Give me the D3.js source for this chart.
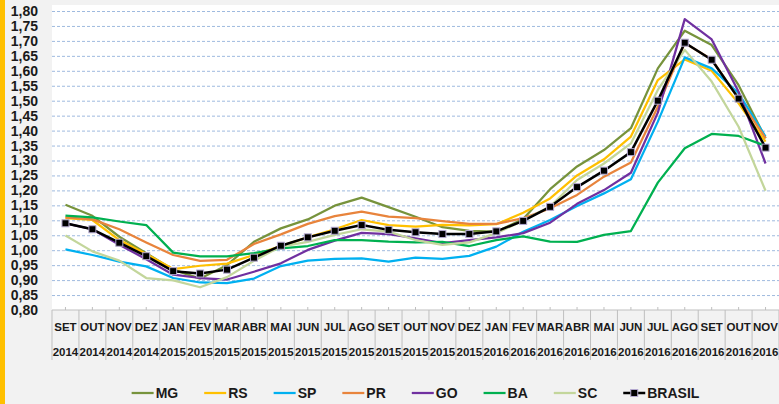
<!DOCTYPE html>
<html lang="pt">
<head>
  <meta charset="UTF-8">
  <title>Índice por estado</title>
  <script src="https://d3js.org/d3.v7.min.js"></script>
  <style>
    body { margin: 0; background: #f2f2f2; }
    svg { display: block; font-family: "Liberation Sans", Arial, sans-serif; }
  </style>
</head>
<body>
  <div id="chart"></div>

  <script>
    // categorias (mês / ano)
    const months = ["SET","OUT","NOV","DEZ","JAN","FEV","MAR","ABR","MAI","JUN","JUL","AGO","SET","OUT","NOV","DEZ","JAN","FEV","MAR","ABR","MAI","JUN","JUL","AGO","SET","OUT","NOV"];
    const years = ["2014","2014","2014","2014","2015","2015","2015","2015","2015","2015","2015","2015","2015","2015","2015","2015","2016","2016","2016","2016","2016","2016","2016","2016","2016","2016","2016"];
    const yTicks = [0.80,0.85,0.90,0.95,1.00,1.05,1.10,1.15,1.20,1.25,1.30,1.35,1.40,1.45,1.50,1.55,1.60,1.65,1.70,1.75,1.80];

    // séries
    const MG = [1.152,1.115,1.045,0.990,0.935,0.905,0.950,1.028,1.073,1.103,1.149,1.176,1.144,1.112,1.077,1.065,1.062,1.104,1.204,1.280,1.335,1.408,1.608,1.734,1.686,1.552,1.374];
    const RS = [1.107,1.101,1.034,0.987,0.937,0.948,0.955,0.984,1.014,1.043,1.070,1.101,1.084,1.079,1.085,1.083,1.087,1.125,1.173,1.250,1.304,1.380,1.569,1.638,1.600,1.491,1.363];
    const SP = [1.003,0.984,0.962,0.946,0.907,0.892,0.890,0.905,0.947,0.965,0.971,0.973,0.962,0.975,0.971,0.981,1.012,1.062,1.101,1.148,1.190,1.237,1.430,1.645,1.608,1.525,1.380];
    const PR = [1.110,1.103,1.070,1.026,0.984,0.964,0.968,1.021,1.053,1.088,1.114,1.129,1.112,1.107,1.097,1.088,1.088,1.107,1.140,1.185,1.246,1.293,1.480,1.693,1.638,1.508,1.375];
    const GO = [1.090,1.070,1.018,0.970,0.918,0.907,0.902,0.928,0.956,1.001,1.032,1.058,1.054,1.040,1.024,1.034,1.043,1.057,1.092,1.155,1.201,1.259,1.460,1.773,1.705,1.530,1.290];
    const BA = [1.116,1.110,1.096,1.084,0.992,0.979,0.979,0.990,1.006,1.014,1.034,1.034,1.029,1.026,1.028,1.014,1.034,1.046,1.029,1.028,1.051,1.064,1.226,1.341,1.389,1.382,1.349];
    const SC = [1.049,0.996,0.965,0.907,0.899,0.876,0.910,0.965,1.012,1.028,1.051,1.070,1.062,1.034,1.018,1.026,1.057,1.099,1.146,1.235,1.290,1.357,1.536,1.670,1.564,1.413,1.199];
    const BRASIL = [1.090,1.070,1.025,0.980,0.930,0.922,0.935,0.975,1.015,1.043,1.065,1.084,1.068,1.060,1.054,1.054,1.063,1.098,1.145,1.211,1.266,1.328,1.500,1.694,1.637,1.507,1.343];

    const series = [
      { name: "MG", values: MG, color: "#77933c" },
      { name: "RS", values: RS, color: "#ffc000" },
      { name: "SP", values: SP, color: "#00b0f0" },
      { name: "PR", values: PR, color: "#e8843c" },
      { name: "GO", values: GO, color: "#7030a0" },
      { name: "BA", values: BA, color: "#00b050" },
      { name: "SC", values: SC, color: "#c3d69b" },
      { name: "BRASIL", values: BRASIL, color: "#000000", marker: true }
    ];

    const width = 779, height = 404;
    const plot = { left: 52, right: 779, top: 5, bottom: 310 };

    const svg = d3.select("#chart").append("svg")
      .attr("width", width)
      .attr("height", height);

    svg.append("rect").attr("width", width).attr("height", height).attr("fill", "#f2f2f2");
    svg.append("rect").attr("x", 0).attr("y", 0).attr("width", 5).attr("height", height).attr("fill", "#ffc000");
    svg.append("rect")
      .attr("x", plot.left).attr("y", plot.top)
      .attr("width", plot.right - plot.left).attr("height", plot.bottom - plot.top)
      .attr("fill", "#ffffff");

    const x = d3.scaleBand()
      .domain(d3.range(months.length))
      .range([plot.left, plot.right]);

    const y = d3.scaleLinear()
      .domain([0.80, 1.80])
      .range([plot.bottom, 11]);

    // grade horizontal
    svg.append("g")
      .attr("transform", `translate(${plot.left},0)`)
      .call(d3.axisLeft(y).tickValues(yTicks.slice(1)).tickSize(-(plot.right - plot.left)).tickFormat(""))
      .call(g => g.select(".domain").remove())
      .call(g => g.selectAll("line")
        .attr("stroke", "#9fbadf")
        .attr("stroke-dasharray", "3,2"));

    // eixo Y
    svg.append("g")
      .attr("transform", "translate(40,0)")
      .call(d3.axisLeft(y).tickValues(yTicks).tickSize(0).tickPadding(2)
        .tickFormat(d => d3.format(".2f")(d).replace(".", ",")))
      .call(g => g.select(".domain").remove())
      .call(g => g.selectAll("text")
        .attr("font-size", 14)
        .attr("font-weight", "bold")
        .attr("fill", "#1a1a1a")
        .attr("font-family", "'Liberation Sans', Arial, sans-serif"));

    // eixo X (linha e marcas)
    svg.append("line")
      .attr("x1", plot.left).attr("x2", plot.right)
      .attr("y1", plot.bottom).attr("y2", plot.bottom)
      .attr("stroke", "#bfbfbf");

    svg.append("g").selectAll("line.tick")
      .data(d3.range(months.length))
      .join("line")
      .attr("x1", d => x(d) + x.bandwidth() / 2)
      .attr("x2", d => x(d) + x.bandwidth() / 2)
      .attr("y1", plot.bottom - 3).attr("y2", plot.bottom)
      .attr("stroke", "#bfbfbf");

    // divisórias das categorias
    svg.append("g").selectAll("line")
      .data(d3.range(months.length + 1))
      .join("line")
      .attr("x1", d => d < months.length ? x(d) : plot.right)
      .attr("x2", d => d < months.length ? x(d) : plot.right)
      .attr("y1", plot.bottom).attr("y2", 360)
      .attr("stroke", "#bfbfbf");

    const labels = svg.append("g")
      .attr("font-weight", "bold")
      .attr("font-size", 11.5)
      .attr("fill", "#1a1a1a")
      .attr("text-anchor", "middle");

    labels.selectAll("text.m")
      .data(months)
      .join("text")
      .attr("class", "m")
      .attr("x", (d, i) => x(i) + x.bandwidth() / 2)
      .attr("y", 331)
      .text(d => d);

    labels.selectAll("text.y")
      .data(years)
      .join("text")
      .attr("class", "y")
      .attr("x", (d, i) => x(i) + x.bandwidth() / 2)
      .attr("y", 356)
      .text(d => d);

    // linhas
    const line = d3.line()
      .x((d, i) => x(i) + x.bandwidth() / 2)
      .y(d => y(d));

    svg.append("g").selectAll("path")
      .data(series)
      .join("path")
      .attr("fill", "none")
      .attr("stroke", d => d.color)
      .attr("stroke-width", d => d.marker ? 2.5 : 2.25)
      .attr("stroke-linejoin", "round")
      .attr("d", d => line(d.values));

    // marcadores BRASIL
    svg.append("g").selectAll("rect")
      .data(BRASIL)
      .join("rect")
      .attr("x", (d, i) => x(i) + x.bandwidth() / 2 - 3.5)
      .attr("y", d => y(d) - 3.5)
      .attr("width", 7).attr("height", 7)
      .attr("fill", "#000000")
      .attr("stroke", "#b3a8cf")
      .attr("stroke-width", 1);

    // legenda
    const legend = svg.append("g");
    let lx = 0;
    series.forEach(s => {
      const item = legend.append("g").attr("transform", `translate(${lx},0)`);
      item.append("line")
        .attr("x1", 0).attr("x2", 22)
        .attr("y1", 0).attr("y2", 0)
        .attr("stroke", s.color)
        .attr("stroke-width", s.marker ? 2.5 : 2.25);
      if (s.marker) {
        item.append("rect")
          .attr("x", 7.5).attr("y", -3.5)
          .attr("width", 7).attr("height", 7)
          .attr("fill", "#000").attr("stroke", "#b3a8cf");
      }
      const t = item.append("text")
        .attr("x", 24).attr("y", 5)
        .attr("font-size", 14)
        .attr("font-weight", "bold")
        .attr("fill", "#1a1a1a")
        .text(s.name);
      lx += 24 + t.node().getComputedTextLength() + 26;
    });
    const legendWidth = lx - 26;
    legend.attr("transform", `translate(${(plot.left + plot.right) / 2 - legendWidth / 2},393)`);
  </script>
</body>
</html>
